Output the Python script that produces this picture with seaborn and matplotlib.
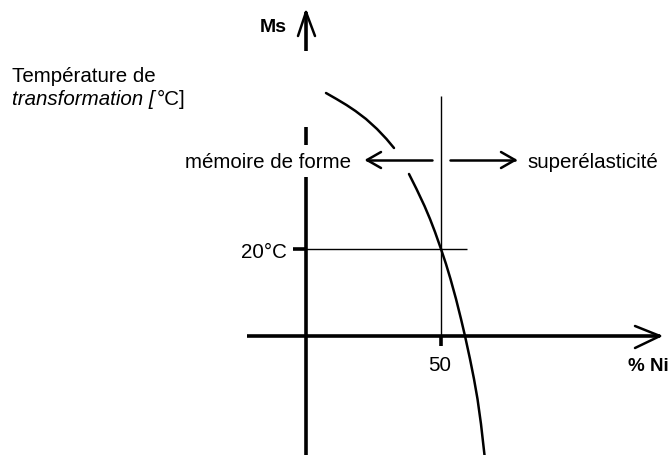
import matplotlib
matplotlib.use("Agg")
import matplotlib.pyplot as plt
import seaborn as sns
import pandas as pd

# --- data (schematic Ms vs % Ni curve) ---
ni_upper = [7.41, 11.30, 15.00, 18.33, 22.22, 26.30, 29.81, 32.59]
ms_upper = [55.86, 54.48, 53.10, 51.72, 49.89, 47.59, 45.29, 43.22]
ni_lower = [38.15, 40.93, 43.89, 45.93, 47.78, 50.00, 51.85, 53.52, 55.56,
            57.41, 58.89, 60.74, 62.22, 63.52, 64.81, 66.11]
ms_lower = [37.24, 33.79, 29.89, 26.90, 23.91, 20.00, 16.55, 13.10, 8.51,
            3.91, 0.00, -5.29, -9.89, -14.48, -20.23, -27.36]
ni_ref = 50     # tick on the % Ni axis
ms_ref = 20     # 20°C reference line

sns.set_theme(style="white")
plt.rcParams['font.family'] = ['Liberation Sans', 'DejaVu Sans']

W, H = 670, 456
X0, Y0 = 306, 337          # pixel position of the origin
SX, SY = 2.7, 4.35         # pixels per unit


def px(x, y):
    # pixel position -> data coordinates (layout helper)
    return (x - X0) / SX, (Y0 - y) / SY


fig = plt.figure(figsize=(6.7, 4.56), dpi=100)
ax = fig.add_axes([0, 0, 1, 1])
ax.set_xlim(px(0, 0)[0], px(W, 0)[0])
ax.set_ylim(px(0, H)[1], px(0, 0)[1])
ax.axis('off')

thick = dict(color='black', lw=2.6, solid_capstyle='butt')
thin = dict(color='black', lw=1.0, solid_capstyle='butt')
head = dict(color='black', lw=1.8, solid_capstyle='round')


def seg(p1, p2, **kw):
    a, b = px(*p1), px(*p2)
    ax.plot([a[0], b[0]], [a[1], b[1]], **kw)


# y axis (broken where labels sit)
seg((306, 13), (306, 52), **thick)
seg((306, 128), (306, 146), **thick)
seg((306, 178), (306, 456), **thick)
seg((306, 13), (298, 37), **head)
seg((306, 13), (315, 37), **head)

# x axis
seg((247, 337), (660, 337), **thick)
seg((660, 337), (635, 327), **head)
seg((660, 337), (635, 349), **head)

# reference lines
xr, yr = ni_ref * SX + X0, Y0 - ms_ref * SY
seg((xr, 97), (xr, 337), **thin)
seg((xr, 337), (xr, 347), **thick)
seg((306, yr), (467, yr), **thin)
seg((293, yr), (306, yr), **thick)

# direction arrows
seg((367, 161), (432, 161), **head)
seg((367, 161), (381, 153), **head)
seg((367, 161), (381, 169), **head)
seg((450, 161), (515, 161), **head)
seg((515, 161), (501, 153), **head)
seg((515, 161), (501, 169), **head)

# curve
up = pd.DataFrame({'ni': ni_upper, 'ms': ms_upper})
lo = pd.DataFrame({'ni': ni_lower, 'ms': ms_lower})
sns.lineplot(data=up, x='ni', y='ms', sort=False, estimator=None,
             color='black', lw=1.8, ax=ax)
sns.lineplot(data=lo, x='ni', y='ms', sort=False, estimator=None,
             color='black', lw=1.8, ax=ax)

fs = 14.8


def txt(x, y, s, **kw):
    d = px(x, y)
    ax.text(d[0], d[1], s, va='baseline', fontsize=kw.pop('fontsize', fs),
            color='black', **kw)


txt(260, 32, 'Ms', fontweight='bold', fontsize=14)
txt(12, 82, 'Température de')
txt(12, 105, 'transformation [', style='italic')
txt(157, 105, '°C]')
txt(185, 168, 'mémoire de forme')
txt(527, 168, 'superélasticité')
txt(287, 258, '20°C', ha='right')
txt(440, 371, str(ni_ref), ha='center')
txt(628, 371, '% Ni', fontweight='bold', fontsize=13.5)

fig.savefig('out.png', dpi=100)
